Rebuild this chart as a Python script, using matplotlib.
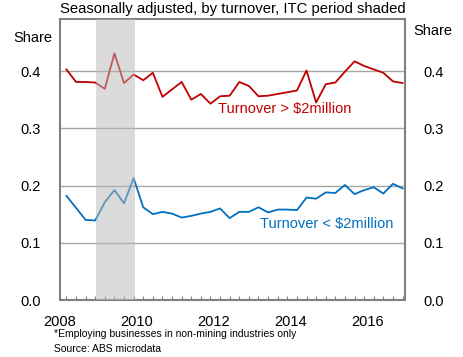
import numpy as np
import matplotlib
matplotlib.use("Agg")
import matplotlib.pyplot as plt

plt.rcParams["font.family"] = ["Liberation Sans", "DejaVu Sans"]

# quarterly observations, Mar-2008 to Dec-2016
start_year = 2008 + 2 / 12
n_quarters = 36

large_share = [0.403, 0.381, 0.381, 0.380, 0.369, 0.431, 0.379, 0.394, 0.384,
               0.397, 0.355, 0.368, 0.381, 0.350, 0.360, 0.343, 0.356, 0.357,
               0.381, 0.374, 0.356, 0.357, 0.360, 0.363, 0.366, 0.401, 0.345,
               0.377, 0.380, 0.399, 0.417, 0.409, 0.403, 0.397, 0.382, 0.379]

small_share = [0.182, 0.161, 0.140, 0.139, 0.171, 0.192, 0.169, 0.213, 0.162,
               0.150, 0.154, 0.151, 0.144, 0.147, 0.151, 0.154, 0.160, 0.143,
               0.154, 0.154, 0.162, 0.153, 0.158, 0.158, 0.157, 0.179, 0.177,
               0.188, 0.187, 0.201, 0.185, 0.192, 0.197, 0.186, 0.203, 0.195]

itc_start, itc_end = 2008.93, 2009.95
y_ticks = [0.0, 0.1, 0.2, 0.3, 0.4]
year_labels = [2008, 2010, 2012, 2014, 2016]

x = start_year + 0.25 * np.arange(n_quarters)

RED = "#C00000"
BLUE = "#0070C0"
GREY = "#808080"

fig = plt.figure(figsize=(4.63, 3.57), dpi=100)
ax = fig.add_axes([60 / 463, 1 - 300 / 357, 345 / 463, 281 / 357])

ax.plot(x, large_share, color=RED, lw=1.3, zorder=3)
ax.plot(x, small_share, color=BLUE, lw=1.3, zorder=3)
ax.axvspan(itc_start, itc_end, color="#B9B9B9", alpha=0.5, lw=0, zorder=4)

for yv in y_ticks[1:]:
    ax.axhline(yv, color="#A6A6A6", lw=1.0, zorder=1)

ax.set_xlim(2008, 2016.98)
ax.set_ylim(0, 0.491)

ax.set_yticks(y_ticks)
ax.set_yticklabels([f"{v:.1f}" for v in y_ticks])
ax.tick_params(axis="y", length=0, labelsize=10.5, pad=14)

ax.set_xticks(year_labels)
ax.set_xticklabels([str(v) for v in year_labels])
ax.set_xticks(x, minor=True)
ax.tick_params(axis="x", which="major", length=0, labelsize=10.5, pad=11)
ax.tick_params(axis="x", which="minor", direction="in", length=3,
               color=GREY, width=0.8)

for sp in ax.spines.values():
    sp.set_color(GREY)
    sp.set_linewidth(1.5)

ax2 = ax.twinx()
ax2.set_ylim(ax.get_ylim())
ax2.set_yticks(y_ticks)
ax2.set_yticklabels([f"{v:.1f}" for v in y_ticks])
ax2.tick_params(axis="y", length=0, labelsize=10.5, pad=13)
for sp in ax2.spines.values():
    sp.set_visible(False)

fig.text(233 / 463, 1 - 9 / 357, "Seasonally adjusted, by turnover, ITC period shaded",
         ha="center", va="center", fontsize=10.7)
fig.text(33 / 463, 1 - 38 / 357, "Share", ha="center", va="center", fontsize=10.5)
fig.text(433 / 463, 1 - 31 / 357, "Share", ha="center", va="center", fontsize=10.5)

ax.text(2012.1, 0.333, "Turnover > $2million", color=RED, fontsize=10.5,
        ha="left", va="center")
ax.text(2013.2, 0.132, "Turnover < $2million", color=BLUE, fontsize=10.5,
        ha="left", va="center")

fig.text(54 / 463, 1 - 334 / 357, "*Employing businesses in non-mining industries only",
         ha="left", va="center", fontsize=7.5)
fig.text(54 / 463, 1 - 349 / 357, "Source: ABS microdata",
         ha="left", va="center", fontsize=7.5)

fig.savefig("out.png", dpi=100)
